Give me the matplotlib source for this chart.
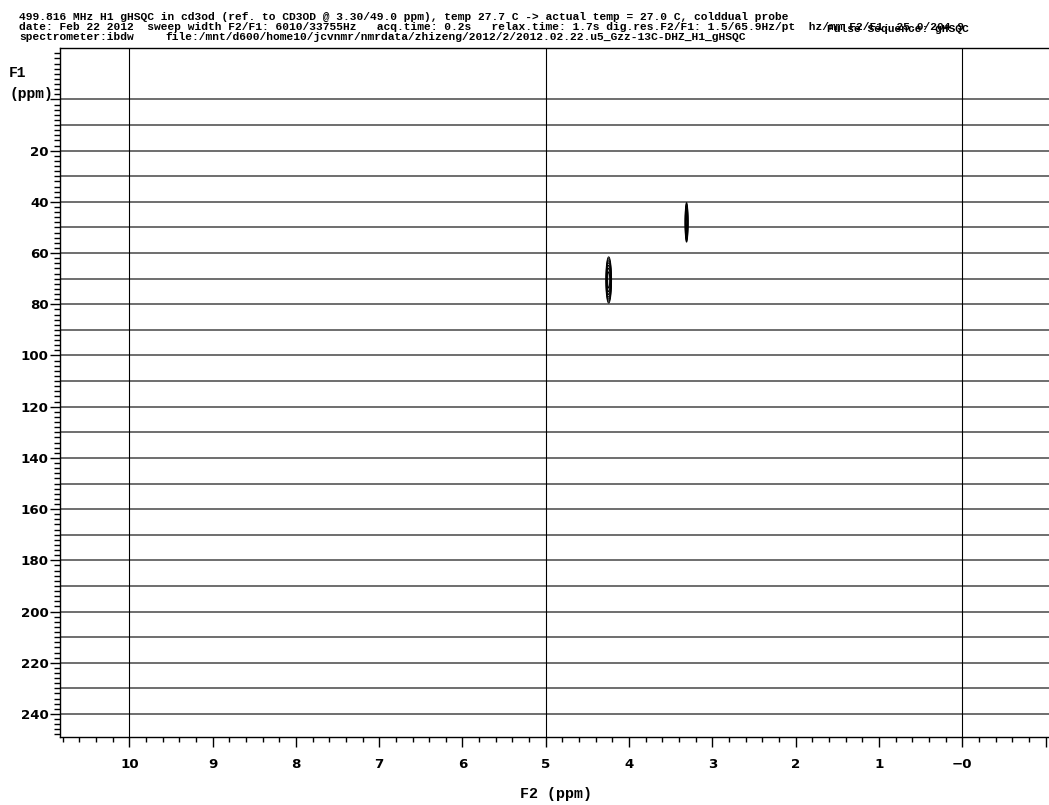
import numpy as np
import matplotlib
matplotlib.use("Agg")
import matplotlib.pyplot as plt
from matplotlib.ticker import MultipleLocator, FixedLocator, FixedFormatter

# Header lines written by the spectrometer software
header_line1 = ("499.816 MHz H1 gHSQC in cd3od (ref. to CD3OD @ 3.30/49.0 ppm), "
                "temp 27.7 C -> actual temp = 27.0 C, colddual probe")
header_line2 = ("date: Feb 22 2012  sweep width F2/F1: 6010/33755Hz   acq.time: 0.2s   "
                "relax.time: 1.7s dig.res.F2/F1: 1.5/65.9Hz/pt  hz/mm F2/F1: 25.0/204.9")
header_line3a = "spectrometer:ibdw"
header_line3b = "file:/mnt/d600/home10/jcvnmr/nmrdata/zhizeng/2012/2/2012.02.22.u5_Gzz-13C-DHZ_H1_gHSQC"
pulse_sequence = "Pulse Sequence: gHSQC"

# Cross peaks (1H shift, 13C shift) and their line widths
peak_f2 = [3.31, 4.245]          # ppm, 1H
peak_f1 = [48.0, 70.5]           # ppm, 13C
peak_sigma_f2 = [0.0085, 0.016]  # ppm
peak_sigma_f1 = [3.6, 4.2]       # ppm
peak_amp = [1.0, 1.0]
contour_levels = [0.1, 0.14, 0.2, 0.28, 0.4, 0.55, 0.75]

# Axis ticks
f2_major = [10, 9, 8, 7, 6, 5, 4, 3, 2, 1, 0, -1]
f2_labels = ["10", "9", "8", "7", "6", "5", "4", "3", "2", "1", "\u22120", ""]
f1_major = [0, 20, 40, 60, 80, 100, 120, 140, 160, 180, 200, 220, 240]
f1_labels = [""] + [str(v) for v in f1_major[1:]]
f1_grid = list(range(0, 250, 10))
f2_grid = [10, 5, 0]

W, H = 1049, 805
fig = plt.figure(figsize=(W / 100, H / 100), dpi=100)

mono = "Liberation Mono"
hdr = dict(family=mono, weight="bold", fontsize=8.15, va="baseline", ha="left")
fig.text(19 / W, 1 - 19.5 / H, header_line1, **hdr)
fig.text(19 / W, 1 - 30 / H, header_line2, **hdr)
fig.text(19 / W, 1 - 40.5 / H, header_line3a, **hdr)
fig.text(165 / W, 1 - 40.5 / H, header_line3b, **hdr)
fig.text(827 / W, 1 - 32 / H, pulse_sequence, **hdr)

left, right, top, bottom = 60, 1050, 48.5, 737
ax = fig.add_axes([left / W, 1 - bottom / H, (right - left) / W, (bottom - top) / H])
ax.set_xlim(10.832, -1.053)
ax.set_ylim(249.0, -19.9)

# grid lines
for v in f1_grid:
    ax.axhline(v, color="#555555", lw=1.2, zorder=1)
for v in f2_grid:
    ax.axvline(v, color="black", lw=0.8, zorder=1)

# 2D spectrum built from the cross-peak parameters
x = np.linspace(-1.1, 10.9, 6000)
y = np.linspace(-20, 250, 1400)
X, Y = np.meshgrid(x, y)
Z = np.zeros_like(X)
for cx, cy, sx, sy, a in zip(peak_f2, peak_f1, peak_sigma_f2, peak_sigma_f1, peak_amp):
    Z += a * np.exp(-0.5 * ((X - cx) / sx) ** 2 - 0.5 * ((Y - cy) / sy) ** 2)
ax.contour(X, Y, Z, levels=contour_levels, colors="black", linewidths=0.7, zorder=3)

# spines
ax.spines["right"].set_visible(False)
for s in ("left", "bottom", "top"):
    ax.spines[s].set_linewidth(1.0)

ax.xaxis.set_major_locator(FixedLocator(f2_major))
ax.xaxis.set_major_formatter(FixedFormatter(f2_labels))
ax.xaxis.set_minor_locator(MultipleLocator(0.2))
ax.yaxis.set_major_locator(FixedLocator(f1_major))
ax.yaxis.set_major_formatter(FixedFormatter(f1_labels))
ax.yaxis.set_minor_locator(MultipleLocator(2))

ax.tick_params(axis="x", which="major", length=7.5, width=1.0, pad=7.5,
               labelsize=9.6)
ax.tick_params(axis="x", which="minor", length=3.6, width=1.0)
ax.tick_params(axis="y", which="major", length=7.5, width=1.0, pad=0.8,
               labelsize=9.6)
ax.tick_params(axis="y", which="minor", length=4.5, width=1.0)
for lab in ax.get_xticklabels() + ax.get_yticklabels():
    lab.set_fontweight("bold")

fig.text(9 / W, 1 - 73 / H, "F1", family=mono, weight="bold", fontsize=10.5,
         va="center", ha="left")
fig.text(9 / W, 1 - 94 / H, "(ppm)", family=mono, weight="bold", fontsize=10.5,
         va="center", ha="left")
fig.text(556 / W, 1 - 794 / H, "F2 (ppm)", family=mono, weight="bold",
         fontsize=10.8, va="center", ha="center")

fig.savefig("out.png", dpi=100)
